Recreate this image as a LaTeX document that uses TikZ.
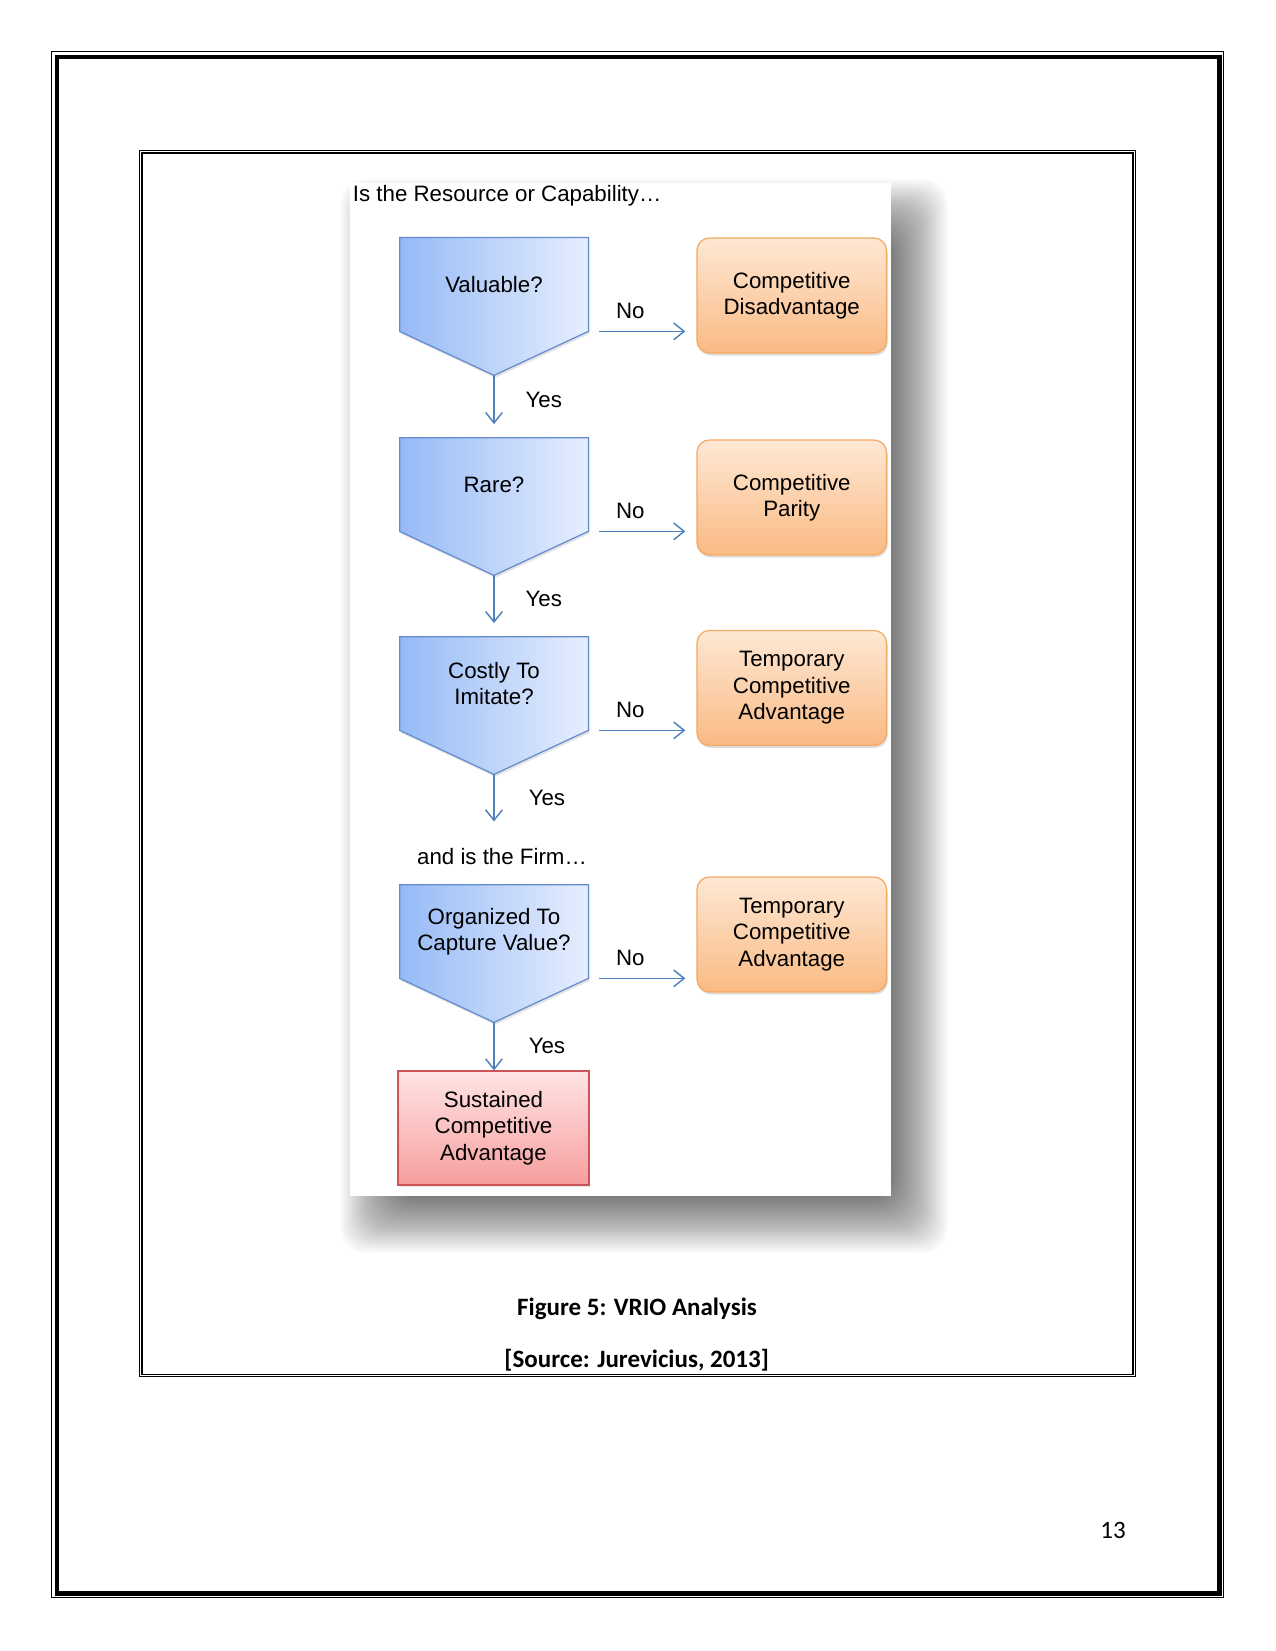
\documentclass[tikz,border=0pt]{standalone}
\usepackage{fontspec}
\setmainfont{Liberation Sans}
\newfontfamily\capfont{Carlito}
\usetikzlibrary{arrows.meta,calc,shadows,backgrounds}
\definecolor{qleft}{RGB}{150,186,247}
\definecolor{qright}{RGB}{230,238,253}
\definecolor{qborder}{RGB}{100,140,205}
\definecolor{otop}{RGB}{254,232,212}
\definecolor{obottom}{RGB}{250,186,132}
\definecolor{oborder}{RGB}{244,170,100}
\definecolor{stop}{RGB}{255,228,228}
\definecolor{sbottom}{RGB}{247,158,158}
\definecolor{sborder}{RGB}{205,85,85}
\definecolor{arrowblue}{RGB}{79,129,189}
\begin{document}
\begin{tikzpicture}[x=0.48pt, y=-0.48pt, font=\fontsize{10.7pt}{12.7pt}\selectfont]
    \tikzset{
      qbox/.style={minimum width=90.2pt, minimum height=44.6pt, inner sep=0pt, align=center},
      qshape/.style={draw=qborder, line width=0.6pt, left color=qleft, right color=qright,
        drop shadow={opacity=0.2, shadow xshift=0.6pt, shadow yshift=-1.2pt}},
      result/.style={draw=oborder, line width=0.6pt, rounded corners=6pt, top color=otop, bottom color=obottom,
        minimum width=91pt, minimum height=55.2pt, align=center,
        drop shadow={opacity=0.25, shadow xshift=0.6pt, shadow yshift=-1.2pt}},
      sustained/.style={draw=sborder, line width=0.6pt, top color=stop, bottom color=sbottom,
        minimum width=91.7pt, minimum height=54.7pt, align=center,
        drop shadow={opacity=0.2, shadow xshift=0.6pt, shadow yshift=-1.2pt}},
      flow/.style={draw=arrowblue, line width=0.7pt, -{Straight Barb[length=5pt, width=8pt]}}
    }
    \useasboundingbox (0,0) rectangle (1275,1651);

    % Page borders
    \draw[line width=0.7pt] (51.5,51.5) rectangle (1223.5,1597.5);
    \draw[line width=2.2pt] (57,57) rectangle (1219.3,1593.5);
    \draw[line width=0.5pt] (139.5,150.5) rectangle (1135.5,1376.8);
    \draw[line width=0.5pt] (142,153) rectangle (1133,1374.3);

    % Picture panel with its soft shadow
    \begin{scope}[on background layer]
      \fill[white] (0,0) rectangle (1275,1651);
      \foreach \r in {1.5,3,...,57}
        \fill[black, opacity=0.0145, rounded corners=12pt] ({397-\r},{236-\r}) rectangle ({891+\r},{1196+\r});
      \fill[white] (350,183) rectangle (891,1196);
    \end{scope}

    % Headings
    \node[anchor=base west, inner sep=0pt] (head) at (352.5,202) {Is the Resource or Capability…};
    \node (firm) at (502,857) {and is the Firm…};

    % Questions
    \node[qbox] (val) at (494,284.5) {Valuable?};
    \node[qbox] (rar) at (494,484.5) {Rare?};
    \node[qbox] (cos) at (494,683.5) {Costly To\\Imitate?};
    \node[qbox] (org) at (494,931.5) {Organized To\\Capture Value?};

    \begin{scope}[on background layer]
      \draw[qshape] (val.north west) -- (val.north east) -- (val.south east) -- ($(val.south)+(0,44)$) coordinate (valtip) -- (val.south west) -- cycle;
      \draw[qshape] (rar.north west) -- (rar.north east) -- (rar.south east) -- ($(rar.south)+(0,44)$) coordinate (rartip) -- (rar.south west) -- cycle;
      \draw[qshape] (cos.north west) -- (cos.north east) -- (cos.south east) -- ($(cos.south)+(0,44)$) coordinate (costip) -- (cos.south west) -- cycle;
      \draw[qshape] (org.north west) -- (org.north east) -- (org.south east) -- ($(org.south)+(0,44)$) coordinate (orgtip) -- (org.south west) -- cycle;
    \end{scope}

    % Outcomes
    \node[result] (dis) at (791.75,295.5) {Competitive\\Disadvantage};
    \node[result] (par) at (791.75,497.5) {Competitive\\Parity};
    \node[result] (tca1) at (791.75,688) {Temporary\\Competitive\\Advantage};
    \node[result] (tca2) at (791.75,934.5) {Temporary\\Competitive\\Advantage};
    \node[sustained] (sca) at (493.5,1128) {Sustained\\Competitive\\Advantage};

    % No branches
    \draw[flow] ([xshift=5.3pt]val.south east) -- ([xshift=-5.3pt]dis.west |- val.south east) node[pos=0.36, above=2.5pt, text=black] {No};
    \draw[flow] ([xshift=5.3pt]rar.south east) -- ([xshift=-5.3pt]par.west |- rar.south east) node[pos=0.36, above=2.5pt, text=black] {No};
    \draw[flow] ([xshift=5.3pt]cos.south east) -- ([xshift=-5.3pt]tca1.west |- cos.south east) node[pos=0.36, above=2.5pt, text=black] {No};
    \draw[flow] ([xshift=5.3pt]org.south east) -- ([xshift=-5.3pt]tca2.west |- org.south east) node[pos=0.36, above=2.5pt, text=black] {No};

    % Yes branches
    \draw[flow] (valtip) -- ([yshift=6.5pt]valtip |- rar.north) node[midway, right=11.5pt, text=black] {Yes};
    \draw[flow] (rartip) -- ([yshift=6.5pt]rartip |- cos.north) node[midway, right=11.5pt, text=black] {Yes};
    \draw[flow] (costip) -- ([yshift=9.6pt]costip |- firm.north) node[midway, right=13pt, text=black] {Yes};
    \draw[flow] (orgtip) -- (orgtip |- sca.north) node[midway, right=13pt, text=black] {Yes};

    % Caption and page number
    \node[font=\capfont\bfseries\fontsize{12pt}{14pt}\selectfont] (cap) at (637,1308.5) {Figure 5: VRIO Analysis};
    \node[font=\capfont\bfseries\fontsize{12pt}{14pt}\selectfont] (src) at (636.7,1360) {[Source: Jurevicius, 2013]};
    \node[font=\capfont\fontsize{12pt}{14pt}\selectfont] (pgno) at (1113,1530) {13};
\end{tikzpicture}
\end{document}
